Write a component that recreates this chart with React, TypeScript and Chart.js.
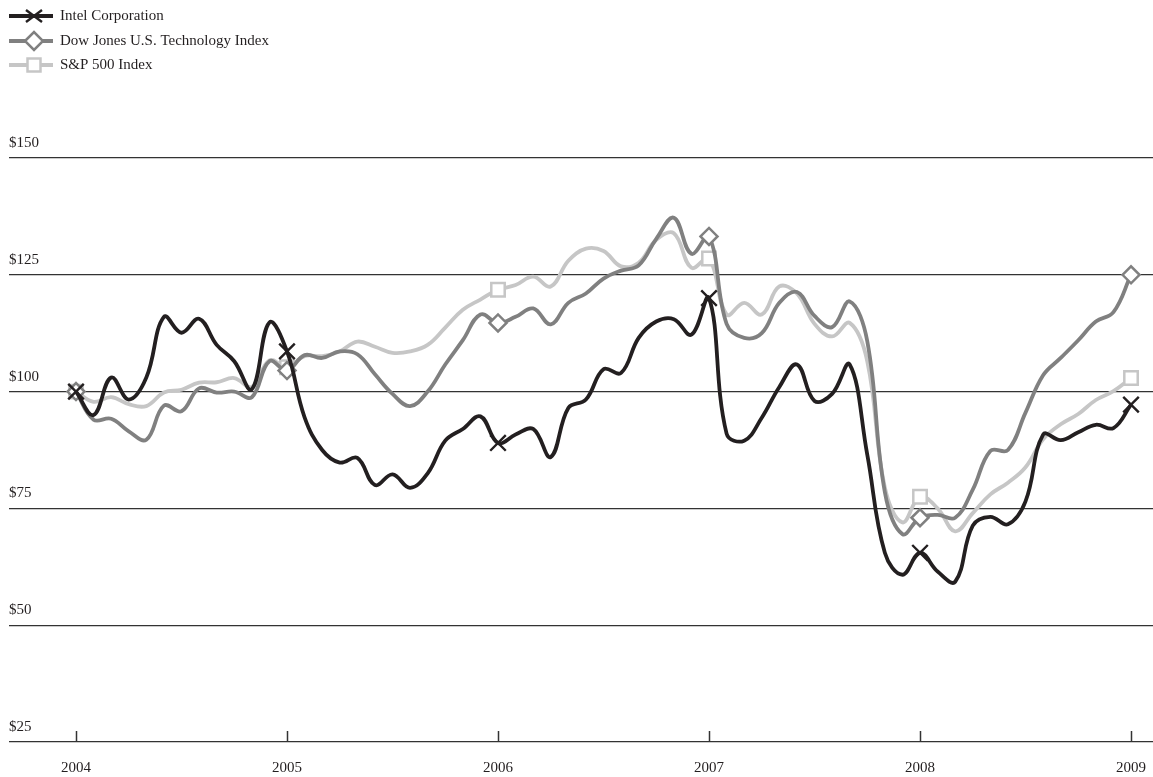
import React, { useEffect, useRef } from 'react';
import { Chart, registerables } from 'chart.js';

Chart.register(...registerables);

// Year tick labels (one tick every 12 months)
const yearLabels = ['2004', '2005', '2006', '2007', '2008', '2009'];
const yearTickMonths = [0, 12, 24, 36, 48, 60];

// Monthly values, Jan 2004 .. Jan 2009 (61 points)
const intelValues = [
  100, 95, 103, 98.3, 103, 116, 112.6, 115.6, 110, 106.5, 100.5, 114.8,
  108.6, 94.5, 87.5, 84.8, 85.8, 80, 82.3, 79.4, 82.5, 89.5, 92, 94.7,
  89, 90.8, 92, 86, 96.5, 98.3, 104.8, 104, 111.5, 115, 115.5, 112.2,
  120, 91, 89.5, 94.4, 101, 105.8, 98, 99.5, 105.8, 86.5, 65.5, 60.8,
  65.5, 61.5, 59.3, 71.3, 73.2, 71.6, 76.5, 90.8, 89.6, 91.3, 92.9, 92.2,
  97.2,
];

const dowJonesValues = [
  100, 94, 94.2, 91.5, 89.7, 97, 95.8, 100.7, 99.8, 100, 98.8, 106.5,
  104.5, 107.8, 107.2, 108.6, 108, 103.7, 99.5, 96.9, 100, 105.8, 111, 116.5,
  114.7, 116, 117.8, 114.4, 119, 121, 124.2, 125.9, 127, 132.7, 137.2, 129.5,
  133.2, 114.5, 111.5, 112.5, 119, 121.3, 116.2, 113.8, 119.3, 110.8, 78.5, 69.5,
  73, 73.6, 73, 79, 87.3, 87.5, 95.5, 103.5, 107.2, 111, 115, 117,
  125,
];

const sp500Values = [
  100, 97.8, 98.8, 97.3, 96.9, 99.8, 100.4, 101.9, 102, 102.9, 101, 106.7,
  105.2, 107.6, 107.6, 108.6, 110.7, 109.6, 108.3, 108.6, 110, 113.7, 117.5, 119.7,
  121.8, 122.8, 124.6, 122.5, 128, 130.6, 130.1, 126.8, 127.6, 132.5, 133.9, 126.5,
  128.5, 116.5, 119, 116.5, 122.5, 121, 114.5, 111.8, 114.7, 106.5, 79.5, 72,
  77.5, 75, 70.1, 74, 78, 80.5, 83.8, 89.8, 93, 95.2, 98.2, 100.1,
  102.9,
];

const seriesNames = ['Intel Corporation', 'Dow Jones U.S. Technology Index', 'S&P 500 Index'];
const seriesColors = ['#231f20', '#808080', '#c6c6c6'];

const SERIF = '"Liberation Serif", "Times New Roman", Times, serif';
const TEXT_COLOR = '#231f20';

function drawMarker(ctx: CanvasRenderingContext2D, kind: number, x: number, y: number) {
  ctx.save();
  ctx.lineWidth = kind === 0 ? 2.4 : 2.5;
  ctx.strokeStyle = seriesColors[kind];
  ctx.fillStyle = '#ffffff';
  ctx.beginPath();
  if (kind === 0) {
    ctx.moveTo(x - 8, y - 6);
    ctx.lineTo(x + 8, y + 6);
    ctx.moveTo(x - 8, y + 6);
    ctx.lineTo(x + 8, y - 6);
    ctx.stroke();
  } else if (kind === 1) {
    ctx.moveTo(x - 9, y);
    ctx.lineTo(x, y - 9);
    ctx.lineTo(x + 9, y);
    ctx.lineTo(x, y + 9);
    ctx.closePath();
    ctx.fill();
    ctx.stroke();
  } else {
    ctx.rect(x - 6.5, y - 6.5, 13, 13);
    ctx.fill();
    ctx.stroke();
  }
  ctx.restore();
}

const legendPlugin = {
  id: 'customLegend',
  afterDraw(chart: any) {
    const ctx: CanvasRenderingContext2D = chart.ctx;
    const rows = [16, 41, 65];
    seriesNames.forEach((name, i) => {
      const y = rows[i];
      ctx.save();
      ctx.strokeStyle = seriesColors[i];
      ctx.lineWidth = 4;
      ctx.beginPath();
      ctx.moveTo(9, y);
      ctx.lineTo(53, y);
      ctx.stroke();
      ctx.restore();
      drawMarker(ctx, i, 34, y);
      ctx.save();
      ctx.fillStyle = TEXT_COLOR;
      ctx.font = `15px ${SERIF}`;
      ctx.textBaseline = 'middle';
      ctx.textAlign = 'left';
      ctx.fillText(name, 60, y);
      ctx.restore();
    });
  },
};

const xAxisPlugin = {
  id: 'yearAxis',
  afterDatasetsDraw(chart: any) {
    const { ctx, chartArea, scales } = chart;
    const xs = scales.x;
    ctx.save();
    ctx.strokeStyle = '#333333';
    ctx.lineWidth = 1.5;
    yearTickMonths.forEach((m) => {
      const px = Math.round(xs.getPixelForValue(m)) + 0.5;
      ctx.beginPath();
      ctx.moveTo(px, chartArea.bottom);
      ctx.lineTo(px, chartArea.bottom - 11);
      ctx.stroke();
    });
    ctx.fillStyle = TEXT_COLOR;
    ctx.font = `15px ${SERIF}`;
    ctx.textAlign = 'center';
    ctx.textBaseline = 'middle';
    yearTickMonths.forEach((m, i) => {
      ctx.fillText(yearLabels[i], xs.getPixelForValue(m), chartArea.bottom + 26);
    });
    ctx.restore();
  },
};

const markerRadius = (r: number) => (c: any) => (c.dataIndex % 12 === 0 ? r : 0);

export default function App() {
  const canvasRef = useRef<HTMLCanvasElement | null>(null);

  useEffect(() => {
    if (!canvasRef.current) return;
    const toPoints = (vals: number[]) => vals.map((v, i) => ({ x: i, y: v }));
    const chart = new Chart(canvasRef.current, {
      type: 'line',
      data: {
        datasets: [
          {
            label: seriesNames[0],
            data: toPoints(intelValues),
            borderColor: seriesColors[0],
            borderWidth: 3.8,
            tension: 0.4,
            pointStyle: 'crossRot',
            pointRadius: markerRadius(11),
            pointBorderWidth: 2.4,
            pointBorderColor: seriesColors[0],
            pointBackgroundColor: seriesColors[0],
          },
          {
            label: seriesNames[1],
            data: toPoints(dowJonesValues),
            borderColor: seriesColors[1],
            borderWidth: 3.8,
            tension: 0.4,
            pointStyle: 'rectRot',
            pointRadius: markerRadius(8.5),
            pointBorderWidth: 2.5,
            pointBorderColor: seriesColors[1],
            pointBackgroundColor: '#ffffff',
          },
          {
            label: seriesNames[2],
            data: toPoints(sp500Values),
            borderColor: seriesColors[2],
            borderWidth: 3.8,
            tension: 0.4,
            pointStyle: 'rect',
            pointRadius: markerRadius(9.5),
            pointBorderWidth: 2.5,
            pointBorderColor: seriesColors[2],
            pointBackgroundColor: '#ffffff',
          },
        ],
      },
      options: {
        animation: false,
        responsive: false,
        layout: { autoPadding: false, padding: { left: 9, right: 0, top: 158, bottom: 35 } },
        plugins: { legend: { display: false }, tooltip: { enabled: false } },
        scales: {
          x: {
            type: 'linear',
            min: -3.81,
            max: 61.25,
            ticks: { display: false },
            grid: { display: false },
            border: { display: false },
            afterFit: (s: any) => {
              s.height = 0;
              s.paddingLeft = 0;
              s.paddingRight = 0;
            },
          },
          y: {
            min: 25,
            max: 150,
            ticks: {
              stepSize: 25,
              mirror: true,
              padding: 0,
              labelOffset: -15,
              callback: (v: any) => '$' + v,
              font: { family: SERIF, size: 15 },
              color: TEXT_COLOR,
            },
            grid: { color: '#333333', lineWidth: 1.2, drawTicks: false },
            border: { display: false },
            afterFit: (s: any) => {
              s.width = 0;
              s.paddingTop = 0;
              s.paddingBottom = 0;
            },
          },
        },
      },
      plugins: [legendPlugin, xAxisPlugin],
    } as any);
    return () => chart.destroy();
  }, []);

  return (
    <div style={{ position: 'fixed', left: 0, top: 0, width: 1153, height: 777, background: '#ffffff' }}>
      <canvas ref={canvasRef} width={1153} height={777} style={{ display: 'block', width: 1153, height: 777 }} />
    </div>
  );
}
